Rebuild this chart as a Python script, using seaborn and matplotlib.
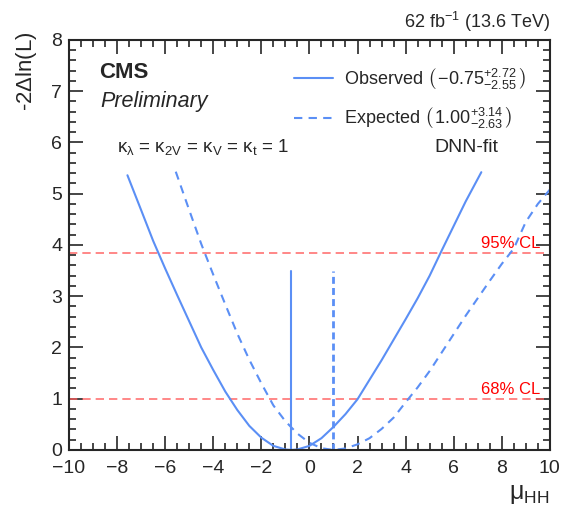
import matplotlib
matplotlib.use("Agg")
import matplotlib.pyplot as plt
import matplotlib.ticker as mticker
from matplotlib.lines import Line2D
import numpy as np
import pandas as pd
import seaborn as sns

# likelihood scan values
obs_mu = [-7.57, -7.0, -6.5, -6.0, -5.5, -5.0, -4.5, -4.0, -3.5, -3.0, -2.5, -2.0, -1.5, -1.0, -0.75,
          -0.5, 0.0, 0.5, 1.0, 1.5, 2.0, 2.5, 3.0, 3.5, 4.0, 4.5, 5.0, 5.5, 6.0, 6.5, 7.15]
obs_nll = [5.36, 4.68, 4.08, 3.54, 3.02, 2.51, 2.00, 1.56, 1.14, 0.78, 0.47, 0.24, 0.08, 0.01, 0.0,
           0.01, 0.08, 0.23, 0.45, 0.70, 0.99, 1.37, 1.75, 2.15, 2.55, 2.96, 3.40, 3.89, 4.37, 4.85, 5.42]

exp_mu = [-5.56, -5.0, -4.5, -4.0, -3.5, -3.0, -2.5, -2.0, -1.5, -1.0, -0.5, 0.0, 0.5, 1.0, 1.5, 2.0,
          2.5, 3.0, 3.5, 4.0, 4.5, 5.0, 5.5, 6.0, 6.5, 7.0, 7.5, 8.0, 8.5, 9.0, 9.5, 10.0]
exp_nll = [5.43, 4.68, 4.02, 3.42, 2.84, 2.27, 1.76, 1.30, 0.87, 0.56, 0.32, 0.14, 0.035, 0.0, 0.03, 0.11,
           0.23, 0.41, 0.63, 0.93, 1.22, 1.54, 1.90, 2.26, 2.62, 2.96, 3.30, 3.63, 3.93, 4.45, 4.80, 5.08]

obs_best = -0.75
exp_best = 1.00
best_line_top = 3.5
cl_levels = [1.0, 3.84]
cl_labels = ["68% CL", "95% CL"]

blue = "#5b8ff5"
red = "#ff5a5a"

sns.set_style("ticks")
plt.rcParams['font.family'] = ['Liberation Sans', 'DejaVu Sans']
plt.rcParams['mathtext.fontset'] = 'custom'
plt.rcParams['mathtext.rm'] = 'Liberation Sans'
plt.rcParams['mathtext.it'] = 'Liberation Sans:italic'
plt.rcParams['mathtext.bf'] = 'Liberation Sans:bold'

df_obs = pd.DataFrame({"mu": obs_mu, "nll": obs_nll})
df_exp = pd.DataFrame({"mu": exp_mu, "nll": exp_nll})

fig = plt.figure(figsize=(5.8, 5.19), dpi=100)
ax = fig.add_axes([0.119, 0.133, 0.829, 0.790])

for lvl, lab in zip(cl_levels, cl_labels):
    ax.axhline(lvl, color=red, lw=1.2, ls=(0, (5, 3)), alpha=0.85, zorder=1)
    ax.text(9.6, lvl + 0.04, lab, color="red", fontsize=12, ha="right", va="bottom")

sns.lineplot(data=df_obs, x="mu", y="nll", ax=ax, color=blue, lw=1.5, sort=False)
sns.lineplot(data=df_exp, x="mu", y="nll", ax=ax, color=blue, lw=1.5, sort=False,
             linestyle=(0, (4, 3)))
ax.plot([obs_best, obs_best], [0, best_line_top], color=blue, lw=1.5)
ax.plot([exp_best, exp_best], [0, best_line_top], color=blue, lw=2.0, ls=(0, (2.5, 1.5)))

ax.set_xlim(-10, 10)
ax.set_ylim(0, 8)
ax.xaxis.set_major_locator(mticker.MultipleLocator(2))
ax.xaxis.set_minor_locator(mticker.MultipleLocator(0.5))
ax.yaxis.set_major_locator(mticker.MultipleLocator(1))
ax.yaxis.set_minor_locator(mticker.MultipleLocator(0.2))
ax.tick_params(which="both", direction="in", top=True, right=True, labelsize=14, width=1.2)
ax.tick_params(which="major", length=10)
ax.tick_params(which="minor", length=5)
ax.tick_params(axis="x", pad=7)
ax.tick_params(axis="y", pad=5)
ax.xaxis.set_major_formatter(mticker.FuncFormatter(lambda v, p: f"{v:.0f}".replace("-", "\u2212")))
for s in ax.spines.values():
    s.set_linewidth(1.5)

ax.set_xlabel("")
ax.set_ylabel("")
fig.text(0.045, 0.94, r"-2$\Delta$ln(L)", rotation=90, fontsize=16, ha="center", va="top")
fig.text(0.948, 0.025, r"$\mathregular{\mu_{HH}}$", fontsize=18, ha="right", va="bottom")
fig.text(0.948, 0.935, r"62 fb$^{{-}1}$ (13.6 TeV)", fontsize=13, ha="right", va="bottom")

ax.text(0.062, 0.946, "CMS", transform=ax.transAxes, fontsize=16, fontweight="bold", va="top")
ax.text(0.066, 0.876, "Preliminary", transform=ax.transAxes, fontsize=15.5, style="italic", va="top")
ax.text(0.10, 0.74, r"$\mathregular{\kappa_{\lambda}}$ = $\mathregular{\kappa_{2V}}$ = "
        r"$\mathregular{\kappa_{V}}$ = $\mathregular{\kappa_{t}}$ = 1",
        transform=ax.transAxes, fontsize=13.5, va="center")
ax.text(0.893, 0.737, "DNN-fit", transform=ax.transAxes, fontsize=14, ha="right", va="center")

handles = [Line2D([], [], color=blue, lw=1.5),
           Line2D([], [], color=blue, lw=1.5, ls=(0, (4, 3)))]
labels = [r"Observed $\left(\,{-}0.75^{+2.72}_{{-}2.55}\,\right)$",
          r"Expected $\left(\,1.00^{+3.14}_{{-}2.63}\,\right)$"]
ax.legend(handles, labels, loc="upper right", bbox_to_anchor=(0.985, 0.975), frameon=False,
          fontsize=13, handlelength=2.2, labelspacing=0.8, handletextpad=0.6)

fig.savefig("out.png", dpi=100)
